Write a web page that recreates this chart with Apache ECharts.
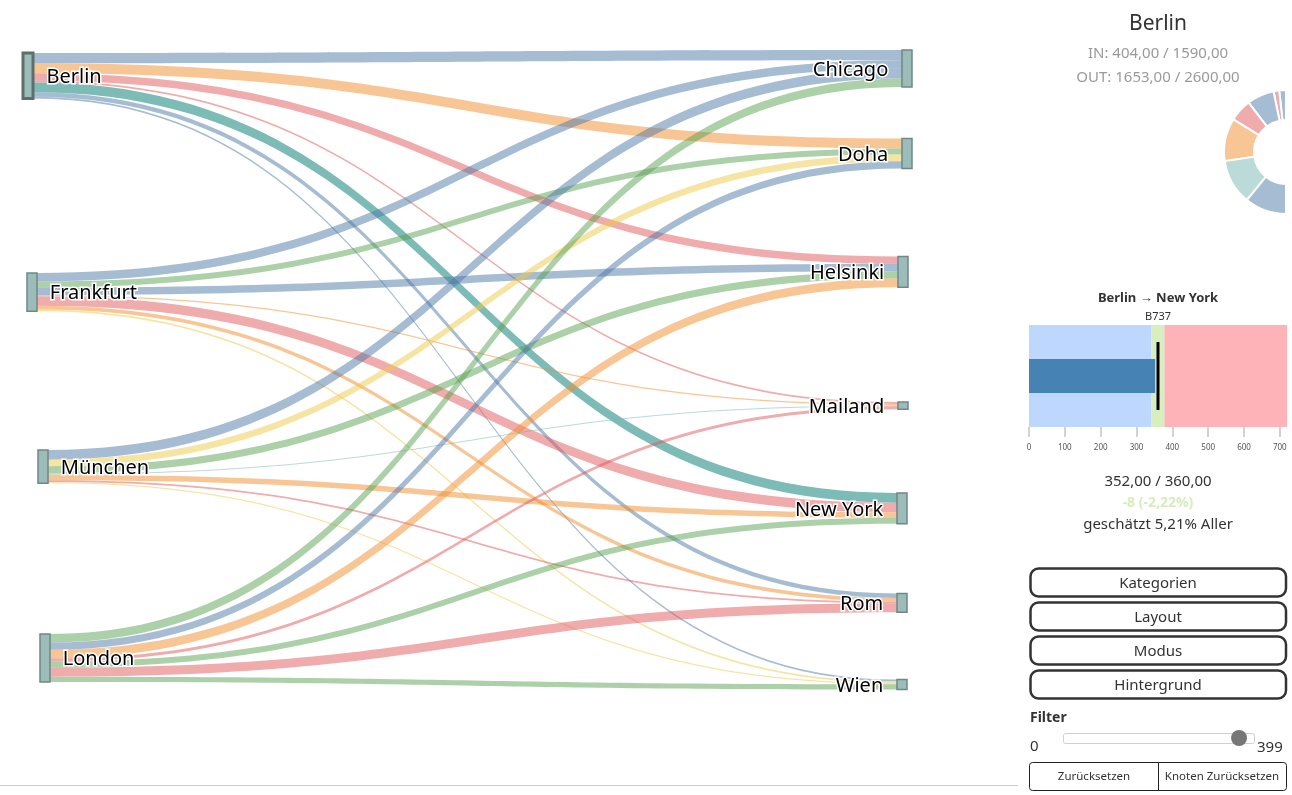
<!DOCTYPE html>
<html>
<head>
<meta charset="utf-8">
<title>Flüge</title>
<script src="https://cdn.jsdelivr.net/npm/echarts@6/dist/echarts.min.js"></script>
<style>
  html, body { margin: 0; padding: 0; background: #fff; }
  #main { width: 1292px; height: 795px; }
</style>
</head>
<body>
<div id="main"></div>
<script>
'use strict';

// --- data -------------------------------------------------------------
const sources = ['Berlin', 'Frankfurt', 'München', 'London'];
const targets = ['Chicago', 'Doha', 'Helsinki', 'Mailand', 'New York', 'Rom', 'Wien'];

// flights per source, in the order of targets
const berlinOut    = [375, 365, 265, 70, 352, 160, 66];
const frankfurtOut = [310, 220, 270, 44, 350, 130, 66];
const muenchenOut  = [350, 240, 265, 44, 200, 66, 44];
const londonOut    = [310, 265, 320, 110, 220, 330, 190];

// category of each link (same order)
const berlinType    = ['blue', 'orange', 'red', 'red', 'teal', 'blue', 'blue'];
const frankfurtType = ['blue', 'green', 'blue', 'orange', 'red', 'orange', 'yellow'];
const muenchenType  = ['blue', 'yellow', 'green', 'teal', 'orange', 'red', 'yellow'];
const londonType    = ['green', 'blue', 'orange', 'red', 'green', 'red', 'green'];

const selectedNode = 'Berlin';
const selectedLink = ['Berlin', 'New York'];
const nodeIn = 404, nodeInCap = 1590, nodeOut = 1653, nodeOutCap = 2600;

const donutValues = [6, 5, 24, 20, 38, 40, 37];
const donutTypes  = ['blue', 'red', 'blue', 'red', 'orange', 'teal', 'blue'];

const bulletType = 'B737';
const bulletRanges = [342, 378, 720];
const bulletActual = 352;
const bulletTarget = 360;
const bulletTicks = [0, 100, 200, 300, 400, 500, 600, 700];
const bulletShare = 5.21;

const menuButtons = ['Kategorien', 'Layout', 'Modus', 'Hintergrund'];
const filterMin = 0, filterMax = 399, filterValue = 381;

// --- styles -----------------------------------------------------------
const typeColor = {
  blue: '#4e79a7', orange: '#f28e2b', red: '#e15759',
  teal: '#76b7b2', green: '#59a14f', yellow: '#edc948'
};
const fade = function (hex, a) {
  const n = parseInt(hex.slice(1), 16);
  return 'rgba(' + (n >> 16) + ',' + ((n >> 8) & 255) + ',' + (n & 255) + ',' + a + ')';
};
const fmt = function (v) { return v.toFixed(2).replace('.', ','); };

// node placement (pixels, top-left of node)
const SK_W = 1000, SK_H = 700;
const nodePos = {
  'Berlin': [23, 53], 'Frankfurt': [27, 273], 'München': [38, 450], 'London': [40, 634],
  'Chicago': [902, 50], 'Doha': [902, 138.5], 'Helsinki': [898, 256.5], 'Mailand': [898, 402],
  'New York': [897, 493], 'Rom': [897, 593.5], 'Wien': [897, 679.5]
};
const nodeSpan = 165; // total px height of one node column

const outs = [berlinOut, frankfurtOut, muenchenOut, londonOut];
const types = [berlinType, frankfurtType, muenchenType, londonType];

const nodes = [];
sources.forEach(function (name) {
  nodes.push({
    name: name,
    localX: nodePos[name][0] / SK_W,
    localY: nodePos[name][1] / SK_H,
    label: { position: 'right', distance: 12 },
    itemStyle: name === selectedNode ? { borderColor: '#5b6f6d', borderWidth: 3 } : undefined
  });
});
targets.forEach(function (name) {
  nodes.push({
    name: name,
    localX: nodePos[name][0] / SK_W,
    localY: nodePos[name][1] / SK_H,
    label: { position: 'left', distance: 13 }
  });
});

const links = [];
sources.forEach(function (s, i) {
  targets.forEach(function (t, j) {
    const sel = s === selectedLink[0] && t === selectedLink[1];
    links.push({
      source: s, target: t, value: outs[i][j],
      lineStyle: { color: typeColor[types[i][j]], opacity: sel ? 0.95 : 0.5 }
    });
  });
});

// --- graphic (side panel) ---------------------------------------------
const txt = function (text, x, y, font, fill, align) {
  return {
    type: 'text', x: x, y: y + 1.5, silent: true,
    style: {
      text: text, font: font, fill: fill,
      align: align || 'center', verticalAlign: 'middle',
      textAlign: align || 'center', textVerticalAlign: 'middle'
    }
  };
};

const diff = bulletActual - bulletTarget;
const graphics = [
  { type: 'line', silent: true, shape: { x1: 0, y1: 785.5, x2: 1018, y2: 785.5 }, style: { stroke: '#c8c8c8', lineWidth: 1 } },
  txt(selectedNode, 1158, 23, '21px "Noto Sans"', '#333'),
  txt('IN: ' + fmt(nodeIn) + ' / ' + fmt(nodeInCap), 1158, 52, '15px "Noto Sans"', '#9a9a9a'),
  txt('OUT: ' + fmt(nodeOut) + ' / ' + fmt(nodeOutCap), 1158, 76, '15px "Noto Sans"', '#9a9a9a'),
  txt(selectedLink[0] + ' \u2192 ' + selectedLink[1], 1158, 297, 'bold 13px "Noto Sans"', '#333'),
  txt(bulletType, 1158, 315, '11px "Noto Sans"', '#333'),
  txt(fmt(bulletActual) + ' / ' + fmt(bulletTarget), 1158, 480, '15px "Noto Sans"', '#333'),
  txt(diff + ' (' + fmt(diff / bulletTarget * 100) + '%)', 1158, 502, 'bold 14px "Noto Sans"', '#d6ecbc'),
  txt('geschätzt ' + fmt(bulletShare) + '% Aller', 1158, 523, '15px "Noto Sans"', '#333'),
  txt('Filter', 1030, 717, 'bold 14px "Noto Sans"', '#333', 'left'),
  txt(String(filterMin), 1030, 745, '15px "Noto Sans"', '#333', 'left'),
  txt(String(filterMax), 1257, 746, '15px "Noto Sans"', '#333', 'left'),
  { type: 'rect', silent: true, shape: { x: 1063.5, y: 733.5, width: 191, height: 10, r: 2 }, style: { fill: '#fff', stroke: '#cfcfcf', lineWidth: 1 } },
  {
    type: 'circle', silent: true,
    shape: { cx: 1071 + (filterValue - filterMin) / (filterMax - filterMin) * 176, cy: 738, r: 8 },
    style: { fill: '#777' }
  },
  { type: 'rect', silent: true, shape: { x: 1029.5, y: 762.5, width: 257, height: 28, r: 3 }, style: { fill: '#fff', stroke: '#222', lineWidth: 1 } },
  { type: 'line', silent: true, shape: { x1: 1158.5, y1: 762.5, x2: 1158.5, y2: 790.5 }, style: { stroke: '#222', lineWidth: 1 } },
  txt('Zurücksetzen', 1094, 775, '11.5px "Noto Sans"', '#333'),
  txt('Knoten Zurücksetzen', 1222, 775, '11.5px "Noto Sans"', '#333')
];
menuButtons.forEach(function (label, i) {
  const y = 568.5 + i * 34;
  graphics.push({
    type: 'rect', silent: true,
    shape: { x: 1030.5, y: y, width: 255.5, height: 28, r: 8 },
    style: { fill: '#fff', stroke: '#333', lineWidth: 2.5 }
  });
  graphics.push(txt(label, 1158, y + 13.5, '15px "Noto Sans"', '#333'));
});

// --- chart ------------------------------------------------------------
const chart = echarts.init(document.getElementById('main'));
const option = {
  animation: false,
  textStyle: { fontFamily: 'Noto Sans' },
  grid: { left: 1029, top: 325, width: 258, height: 102 },
  xAxis: {
    type: 'value', min: 0, max: bulletRanges[2],
    axisLine: { show: true, lineStyle: { color: 'rgba(0,0,0,0)' } },
    splitLine: { show: false },
    axisTick: { show: true, length: 10, lineStyle: { color: '#c4c4c4', width: 1.5 }, customValues: bulletTicks },
    axisLabel: { fontSize: 8, color: '#555', margin: 17, customValues: bulletTicks }
  },
  yAxis: { type: 'category', data: [bulletType], show: false },
  series: [
    {
      type: 'sankey',
      left: 0, top: 0, width: SK_W, height: SK_H,
      nodeWidth: 10,
      nodeGap: (SK_H - nodeSpan) / (targets.length - 1),
      layoutIterations: 0,
      draggable: false,
      emphasis: { disabled: true },
      label: {
        fontSize: 20, color: '#000', fontFamily: 'Noto Sans',
        textBorderColor: '#fff', textBorderWidth: 3,
        offset: [0, 1.5]
      },
      itemStyle: { color: '#9cbcb9', borderColor: '#6f8886', borderWidth: 1.5 },
      lineStyle: { curveness: 0.5, opacity: 0.5 },
      data: nodes,
      links: links
    },
    {
      type: 'pie',
      center: [1286, 152],
      radius: [32, 62],
      startAngle: 90,
      endAngle: 270,
      clockwise: false,
      silent: true,
      label: { show: false },
      labelLine: { show: false },
      itemStyle: { borderColor: '#fff', borderWidth: 2 },
      data: donutValues.map(function (v, i) {
        return { value: v, itemStyle: { color: fade(typeColor[donutTypes[i]], 0.5) } };
      })
    },
    {
      type: 'bar',
      data: [bulletActual],
      barWidth: 34,
      silent: true,
      itemStyle: { color: '#4682b4' },
      markArea: {
        silent: true,
        data: [
          [{ xAxis: 0, itemStyle: { color: '#bdd7fe', opacity: 1 } }, { xAxis: bulletRanges[0] }],
          [{ xAxis: bulletRanges[0], itemStyle: { color: '#d9eebf', opacity: 1 } }, { xAxis: bulletRanges[1] }],
          [{ xAxis: bulletRanges[1], itemStyle: { color: '#feb3b8', opacity: 1 } }, { xAxis: bulletRanges[2] }]
        ]
      }
    },
    {
      type: 'scatter',
      data: [[bulletTarget, bulletType]],
      symbol: 'rect',
      symbolSize: [3, 68],
      silent: true,
      itemStyle: { color: '#000', opacity: 1 },
      z: 5
    }
  ],
  graphic: graphics
};
chart.setOption(option);
</script>
</body>
</html>
